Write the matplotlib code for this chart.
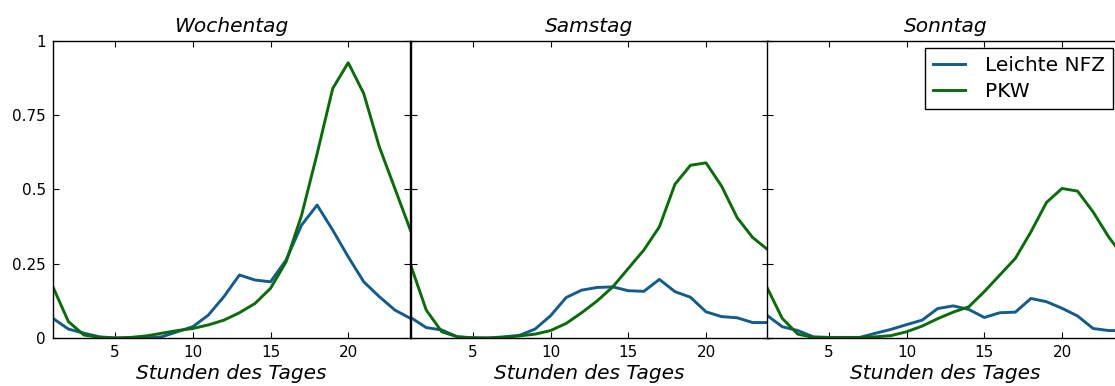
import numpy as np
import matplotlib
matplotlib.use("Agg")
import matplotlib.pyplot as plt
from matplotlib.ticker import FormatStrFormatter

# Normalised hourly traffic volume per vehicle class
hours = np.arange(1, 25)

panel_titles = ["Wochentag", "Samstag", "Sonntag"]
series_labels = ["Leichte NFZ", "PKW"]

nfz_wochentag = [0.066, 0.030, 0.016, 0.004, 0.000, 0.000, 0.000, 0.004, 0.021, 0.038,
                 0.077, 0.139, 0.212, 0.195, 0.189, 0.262, 0.380, 0.447, 0.363, 0.273,
                 0.189, 0.139, 0.094, 0.066]
pkw_wochentag = [0.172, 0.055, 0.010, 0.002, 0.000, 0.002, 0.007, 0.016, 0.025, 0.032,
                 0.044, 0.060, 0.085, 0.116, 0.167, 0.256, 0.413, 0.620, 0.839, 0.926,
                 0.822, 0.643, 0.503, 0.363]

nfz_samstag = [0.069, 0.035, 0.027, 0.004, 0.001, 0.000, 0.004, 0.009, 0.030, 0.075,
               0.136, 0.161, 0.170, 0.172, 0.159, 0.157, 0.197, 0.156, 0.137, 0.088,
               0.072, 0.068, 0.052, 0.052]
pkw_samstag = [0.245, 0.094, 0.021, 0.004, 0.000, 0.000, 0.002, 0.007, 0.013, 0.025,
               0.049, 0.085, 0.125, 0.172, 0.234, 0.296, 0.374, 0.517, 0.581, 0.589,
               0.511, 0.405, 0.338, 0.296]

nfz_sonntag = [0.077, 0.038, 0.025, 0.004, 0.002, 0.002, 0.002, 0.016, 0.029, 0.045,
               0.060, 0.099, 0.108, 0.096, 0.069, 0.085, 0.087, 0.133, 0.122, 0.100,
               0.074, 0.032, 0.025, 0.025]
pkw_sonntag = [0.172, 0.066, 0.013, 0.002, 0.001, 0.001, 0.002, 0.004, 0.008, 0.021,
               0.040, 0.065, 0.087, 0.105, 0.156, 0.212, 0.268, 0.357, 0.456, 0.503,
               0.494, 0.424, 0.340, 0.270]

panels = [
    (nfz_wochentag, pkw_wochentag),
    (nfz_samstag, pkw_samstag),
    (nfz_sonntag, pkw_sonntag),
]

colors = ["#135b8b", "#0b6b0b"]

W, H = 1115, 386
fig = plt.figure(figsize=(W / 100, H / 100), dpi=100)

ax_w = 357.5 / W
ax_left = [52.9 / W, 410.7 / W, 766.7 / W]
ax_bottom = 48 / H
ax_h = 297.3 / H

axes = []
for i, (title, (nfz, pkw)) in enumerate(zip(panel_titles, panels)):
    ax = fig.add_axes([ax_left[i], ax_bottom, ax_w, ax_h])
    axes.append(ax)
    ax.plot(hours, nfz, color=colors[0], lw=2.1, label=series_labels[0])
    ax.plot(hours, pkw, color=colors[1], lw=2.1, label=series_labels[1])
    ax.set_xlim(1, 24)
    ax.set_ylim(0, 1)
    ax.set_xticks([5, 10, 15, 20])
    ax.set_yticks([0, 0.25, 0.5, 0.75, 1])
    ax.yaxis.set_major_formatter(FormatStrFormatter("%g"))
    ax.tick_params(direction="in", top=True, right=True, length=4,
                   labelsize=11, pad=5)
    if i > 0:
        ax.tick_params(labelleft=False)
    for sp in ax.spines.values():
        sp.set_linewidth(1.0)
    ax.set_title(title, fontsize=14.5, style="italic", pad=6)
    ax.set_xlabel("Stunden des Tages", fontsize=14.5, style="italic", labelpad=3)

handles, labels = axes[2].get_legend_handles_labels()
fig.legend(handles, labels, loc="upper right",
           bbox_to_anchor=(1113 / W, 1 - 48 / H), bbox_transform=fig.transFigure,
           borderaxespad=0, fontsize=14.5, fancybox=False, framealpha=1,
           edgecolor="black", handlelength=1.6, handletextpad=1.0,
           labelspacing=0.35, borderpad=0.4)

fig.savefig("out.png", dpi=100)
